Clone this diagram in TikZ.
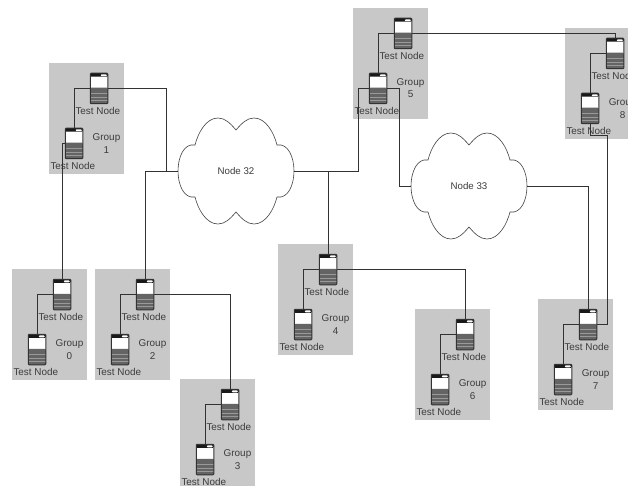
\documentclass[tikz,border=0pt]{standalone}
\usepackage{fontspec}
\setmainfont{Liberation Sans}
\definecolor{groupbg}{RGB}{200,200,201}
\definecolor{wire}{RGB}{50,50,50}
\definecolor{label}{RGB}{60,60,60}
\definecolor{rack}{RGB}{100,100,100}
\tikzset{
  groupbox/.style={fill=groupbg,draw=none},
  wireline/.style={draw=wire,line width=0.9pt},
  txt/.style={inner sep=0pt,text=label,font=\fontsize{9.9}{11}\selectfont},
  cloudbox/.style={inner sep=0pt,minimum width=116pt,minimum height=106pt,text=label,font=\fontsize{9.7}{11}\selectfont},
  cloudline/.style={draw=black!75,line width=0.6pt,fill=white},
  server/.style={draw=black!80,line width=1pt,rounded corners=0.8pt,fill=white,inner sep=0pt,
    minimum width=17.5pt,minimum height=30.5pt,
    path picture={
      \fill[black!90] (path picture bounding box.north west) rectangle ([yshift=-3.5pt]path picture bounding box.north east);
      \fill[white] ([xshift=-7pt,yshift=-1.2pt]path picture bounding box.north east) rectangle ([xshift=-1pt,yshift=-3pt]path picture bounding box.north east);
      \fill[rack] ([yshift=16pt]path picture bounding box.south west) rectangle (path picture bounding box.south east);
      \foreach \yy in {3.5,7,10.5}{
        \draw[black!40,line width=0.4pt] ([yshift=\yy pt]path picture bounding box.south west) -- ([yshift=\yy pt]path picture bounding box.south east);}
    }},
}
\newcommand{\groupbox}[3]{%
  \fill[groupbg] (#1,#2) rectangle ++(75,111);
}
\newcommand{\groupnodes}[3]{%
  \node[server] (n#3u) at (#1+50,#2+25.5) {};
  \node[server] (n#3l) at (#1+25,#2+80.5) {};
  \draw[wireline] (n#3u.west) -| (n#3l.north);
}
\newcommand{\grouptext}[3]{%
  \node[txt] (tu#3) at (#1+48.8,#2+47.8) {Test Node};
  \node[txt] (tl#3) at (#1+23.8,#2+103.2) {Test Node};
  \node[txt] (tg#3) at (#1+57.5,#2+74.6) {Group};
  \node[txt] (tn#3) at (#1+57.5,#2+86.6) {#3};
}
\newcommand{\cloudshape}[2]{%
  \begin{scope}[shift={(#1,#2)}]
  \path[cloudline] (0,-41)
    .. controls (6,-48) and (11,-53) .. (18,-53)
    .. controls (30,-53) and (38,-38) .. (41,-26)
    .. controls (52,-28) and (58,-14) .. (58,0)
    .. controls (58,14) and (52,28) .. (41,26)
    .. controls (38,38) and (30,53) .. (18,53)
    .. controls (11,53) and (6,48) .. (0,41)
    .. controls (-6,48) and (-11,53) .. (-18,53)
    .. controls (-30,53) and (-38,38) .. (-41,26)
    .. controls (-52,28) and (-58,14) .. (-58,0)
    .. controls (-58,-14) and (-52,-28) .. (-41,-26)
    .. controls (-38,-38) and (-30,-53) .. (-18,-53)
    .. controls (-11,-53) and (-6,-48) .. (0,-41) -- cycle;
  \end{scope}
}
\begin{document}
\begin{tikzpicture}[x=1pt,y=-1pt]
\useasboundingbox (0,0) rectangle (628,486);
\clip (0,0) rectangle (628,486);
\groupbox{12}{269}{0}\groupbox{49}{63}{1}\groupbox{95}{269}{2}\groupbox{180}{379}{3}
\groupbox{278}{244}{4}\groupbox{353}{8}{5}\groupbox{415}{309}{6}\groupbox{538}{299}{7}\groupbox{565}{28}{8}
\grouptext{12}{269}{0}\grouptext{49}{63}{1}\grouptext{95}{269}{2}\grouptext{180}{379}{3}
\grouptext{278}{244}{4}\grouptext{353}{8}{5}\grouptext{415}{309}{6}\grouptext{538}{299}{7}\grouptext{565}{28}{8}
\cloudshape{236}{171}\cloudshape{469}{186}
\node[cloudbox] (c32) at (236,171) {Node 32};
\node[cloudbox] (c33) at (469,186) {Node 33};
\groupnodes{12}{269}{0}\groupnodes{49}{63}{1}\groupnodes{95}{269}{2}\groupnodes{180}{379}{3}
\groupnodes{278}{244}{4}\groupnodes{353}{8}{5}\groupnodes{415}{309}{6}\groupnodes{538}{299}{7}\groupnodes{565}{28}{8}
\coordinate (j1) at (166.5,171);
\coordinate (j5) at (358,171);
\coordinate (j6) at (399,186);
\coordinate (j8) at (607,135);
\draw[wireline] (n1u.east) -| (j1) -- (c32.west);
\draw[wireline] (c32.west) -| (n2u.north);
\draw[wireline] (n1l.west) -| (n0u.north);
\draw[wireline] (n2u.east) -| (n3u.north);
\draw[wireline] (c32.east) -| (n4u.north);
\draw[wireline] (n4u.east) -| (n6u.north);
\draw[wireline] (c32.east) -- (j5) |- (n5l.west);
\draw[wireline] (n5l.east) -| (j6) -- (c33.west);
\draw[wireline] (n5u.east) -| (n8u.north);
\draw[wireline] (c33.east) -| (n7u.north);
\draw[wireline] (n8l.south) |- (j8) |- (n7u.east);
\end{tikzpicture}
\end{document}
